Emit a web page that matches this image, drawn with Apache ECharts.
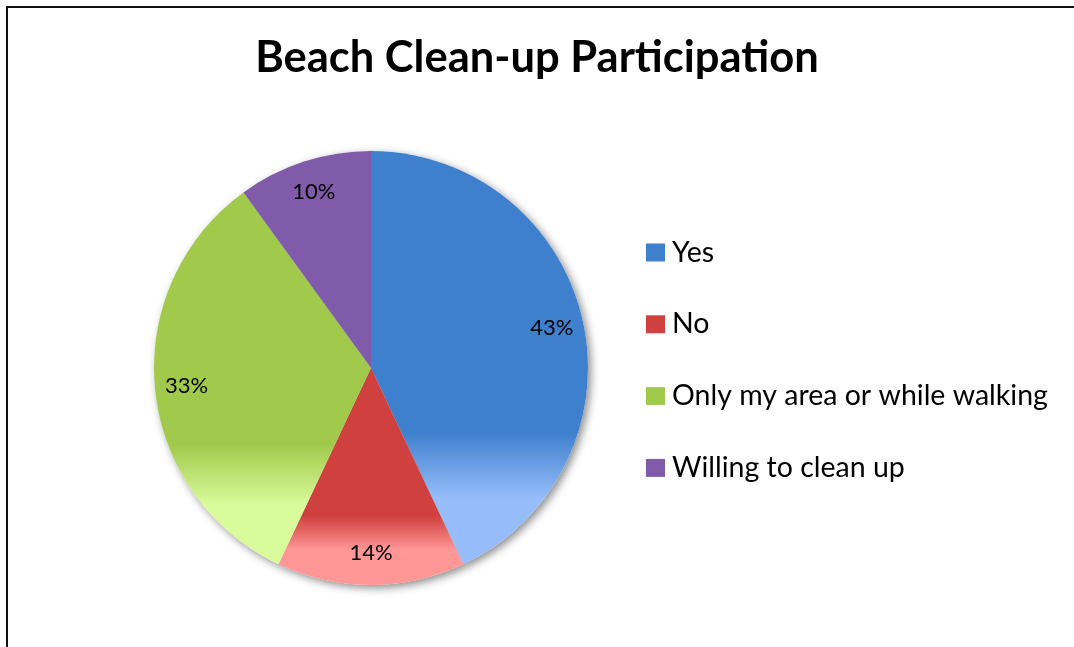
<!DOCTYPE html>
<html>
<head>
<meta charset="utf-8">
<title>Beach Clean-up Participation</title>
<script src="https://cdn.jsdelivr.net/npm/echarts@6/dist/echarts.min.js"></script>
<style>
  html, body { margin: 0; padding: 0; background: #ffffff; }
  #chart { width: 1074px; height: 647px; }
</style>
</head>
<body>
<div id="chart"></div>
<script>
// Survey answers and their shares (percent)
const categories = ['Yes', 'No', 'Only my area or while walking', 'Willing to clean up'];
const shares = [43, 14, 33, 10];

// Slice fills: solid top colour fading to a lighter tone near the bottom
const topColors = ['#3e7fce', '#cf403e', '#a1c94c', '#7f5ba9'];
const bottomColors = ['#96bdf9', '#ff9797', '#dafb9b', '#7f5ba9'];

const FONT = 'Lato, "Open Sans", sans-serif';
const CX = 371, CY = 368, R = 217;

function sliceFill(i) {
  return new echarts.graphic.LinearGradient(0, 0, 0, 1, [
    { offset: 0, color: topColors[i] },
    { offset: 0.68, color: topColors[i] },
    { offset: 0.84, color: bottomColors[i] },
    { offset: 1, color: bottomColors[i] }
  ]);
}

const pieData = categories.map((name, i) => ({
  name: name,
  value: shares[i],
  itemStyle: { color: sliceFill(i) }
}));

const legendData = categories.map((name, i) => ({
  name: name,
  itemStyle: { color: topColors[i] }
}));

const chart = echarts.init(document.getElementById('chart'), null, { renderer: 'canvas' });

chart.setOption({
  backgroundColor: '#ffffff',
  animation: false,
  color: topColors,
  title: {
    text: 'Beach Clean-up Participation',
    left: 'center',
    top: 31,
    textStyle: { fontFamily: FONT, fontWeight: 'bold', fontSize: 43.5, color: '#000000' }
  },
  legend: {
    orient: 'vertical',
    left: 646,
    top: 238,
    padding: 0,
    itemWidth: 19,
    itemHeight: 18,
    itemGap: 42.8,
    icon: 'rect',
    data: legendData,
    textStyle: { fontFamily: FONT, fontSize: 28.5, color: '#000000', lineHeight: 28, padding: [0, 0, 0, 2] }
  },
  graphic: [{
    type: 'rect',
    shape: { x: 7, y: 7, width: 1200, height: 800 },
    style: { fill: 'none', stroke: '#111111', lineWidth: 2 },
    silent: true,
    z: 100
  }],
  series: [
    {
      // soft drop shadow beneath the pie
      type: 'pie',
      center: [CX, CY],
      radius: R,
      startAngle: 90,
      clockwise: true,
      silent: true,
      legendHoverLink: false,
      label: { show: false },
      labelLine: { show: false },
      z: 1,
      data: shares.map((v, i) => ({
        name: 'shadow' + i,
        value: v,
        itemStyle: {
          color: '#ffffff',
          shadowColor: 'rgba(0,0,0,0.45)',
          shadowBlur: 8,
          shadowOffsetX: 3,
          shadowOffsetY: 3
        }
      }))
    },
    {
      type: 'pie',
      name: 'Participation',
      center: [CX, CY],
      radius: R,
      startAngle: 90,
      clockwise: true,
      z: 2,
      label: { show: false },
      labelLine: { show: false },
      itemStyle: { borderWidth: 0 },
      data: pieData
    },
    {
      // percentage labels placed in the outer part of each slice
      type: 'pie',
      center: [CX, CY],
      radius: [R * 0.68, R],
      startAngle: 90,
      clockwise: true,
      silent: true,
      legendHoverLink: false,
      z: 3,
      itemStyle: { color: 'rgba(0,0,0,0)' },
      label: {
        show: true,
        position: 'inside',
        formatter: p => p.value + '%',
        fontFamily: FONT,
        fontSize: 22,
        color: '#000000'
      },
      labelLine: { show: false },
      data: shares.map((v, i) => ({ name: 'label' + i, value: v }))
    }
  ]
});
</script>
</body>
</html>
